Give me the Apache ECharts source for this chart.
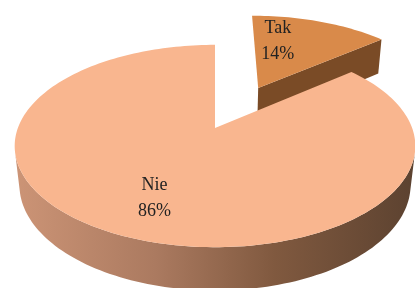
<!DOCTYPE html>
<html>
<head>
<meta charset="utf-8">
<script src="https://cdn.jsdelivr.net/npm/echarts@6/dist/echarts.min.js"></script>
<style>
  html, body { margin: 0; padding: 0; background: #fff; }
  #chart { width: 415px; height: 288px; }
</style>
</head>
<body>
<div id="chart"></div>
<script>
// answers
const categories = ['Tak', 'Nie']
const values = [14, 86]

const topColors = ['#D98A4A', '#F9B68F']
const sideColors = ['#7A4B26', '#A0705A']

// tilted disc seen in perspective; the disc has radius 1 in model units
const view = {
    cx: 215,       // screen position of the pie centre
    cy: 128,
    focal: 960,
    dist: 4.87,    // camera distance
    tilt: 29.8,    // camera elevation, degrees
    depth: 0.23,   // slab thickness
}
const startAngle = 0 // clockwise from 12 o'clock
const explode = [0.5, 0]
const explodeTurn = 3 // degrees, pulled slightly right of the slice middle
// label placement on the top face: [angle shift from the slice middle, radius]
const labelAt = [[-12, 0.62], [-2, 0.69]]

const rad = Math.PI / 180
const sinT = Math.sin(view.tilt * rad)
const cosT = Math.cos(view.tilt * rad)
const camZ = view.dist * cosT

const project = (X, Z, Y) => {
    const yp = -Z * sinT + Y * cosT
    const zp = Z * cosT + Y * sinT
    const d = view.dist - zp
    return [view.cx + (view.focal * X) / d, view.cy - (view.focal * yp) / d]
}

const total = values.reduce((a, b) => a + b, 0)

const wallGradient = () =>
    new echarts.graphic.LinearGradient(0, 0, 1, 0, [
        { offset: 0, color: '#CC9476' },
        { offset: 0.35, color: '#AB7A60' },
        { offset: 0.65, color: '#80593F' },
        { offset: 1, color: '#5C4230' },
    ])

const renderItem = (params, api) => {
    const i = params.dataIndex
    const v = api.value(1)
    let a0 = startAngle
    for (let k = 0; k < i; k++) a0 += (values[k] / total) * 360
    const a1 = a0 + (v / total) * 360
    const mid = (a0 + a1) / 2
    const e = explode[i]
    const ox = e * Math.sin((mid + explodeTurn) * rad)
    const oz = -e * Math.cos((mid + explodeTurn) * rad)
    const h = view.depth

    const steps = Math.max(12, Math.ceil((a1 - a0) / 1.5))
    const topArc = []
    const wallTop = []
    const wallBot = []
    for (let k = 0; k <= steps; k++) {
        const a = (a0 + ((a1 - a0) * k) / steps) * rad
        const X = ox + Math.sin(a)
        const Z = oz - Math.cos(a)
        topArc.push(project(X, Z, 0))
        // outer wall faces the camera?
        const facing = Math.sin(a) * -X + -Math.cos(a) * (camZ - Z)
        if (facing > 0) {
            wallTop.push(project(X, Z, 0))
            wallBot.push(project(X, Z, -h))
        }
    }
    const apexTop = project(ox, oz, 0)
    const apexBot = project(ox, oz, -h)
    const side = i === 1 ? wallGradient() : sideColors[i]

    const children = []
    if (wallTop.length > 1) {
        children.push({
            type: 'polygon',
            shape: { points: wallTop.concat(wallBot.reverse()) },
            style: { fill: side },
        })
    }
    // radial cut faces, only the ones turned towards the viewer
    if (-Math.sin(a0 * rad) > 1e-6) {
        const p = project(ox + Math.sin(a0 * rad), oz - Math.cos(a0 * rad), -h)
        children.push({
            type: 'polygon',
            shape: { points: [apexTop, topArc[0], p, apexBot] },
            style: { fill: sideColors[i] },
        })
    }
    if (Math.sin(a1 * rad) > 1e-6) {
        const p = project(ox + Math.sin(a1 * rad), oz - Math.cos(a1 * rad), -h)
        children.push({
            type: 'polygon',
            shape: { points: [apexTop, topArc[topArc.length - 1], p, apexBot] },
            style: { fill: sideColors[i] },
        })
    }
    children.push({
        type: 'polygon',
        shape: { points: [apexTop].concat(topArc) },
        style: { fill: topColors[i] },
    })

    const la = (mid + labelAt[i][0]) * rad
    const lr = labelAt[i][1]
    const lp = project(ox + lr * Math.sin(la), oz - lr * Math.cos(la), 0)
    children.push({
        type: 'text',
        x: lp[0],
        y: lp[1],
        style: {
            text: categories[i] + '\n' + Math.round((v / total) * 100) + '%',
            fill: '#222',
            fontSize: 18,
            fontFamily: '"Liberation Serif", "DejaVu Serif", serif',
            align: 'center',
            verticalAlign: 'middle',
            lineHeight: 26,
        },
    })

    return { type: 'group', children }
}

const chart = echarts.init(document.getElementById('chart'))
chart.setOption({
    animation: false,
    backgroundColor: '#fff',
    series: [
        {
            type: 'custom',
            coordinateSystem: 'none',
            renderItem,
            data: categories.map((c, i) => [c, values[i]]),
        },
    ],
})
</script>
</body>
</html>
